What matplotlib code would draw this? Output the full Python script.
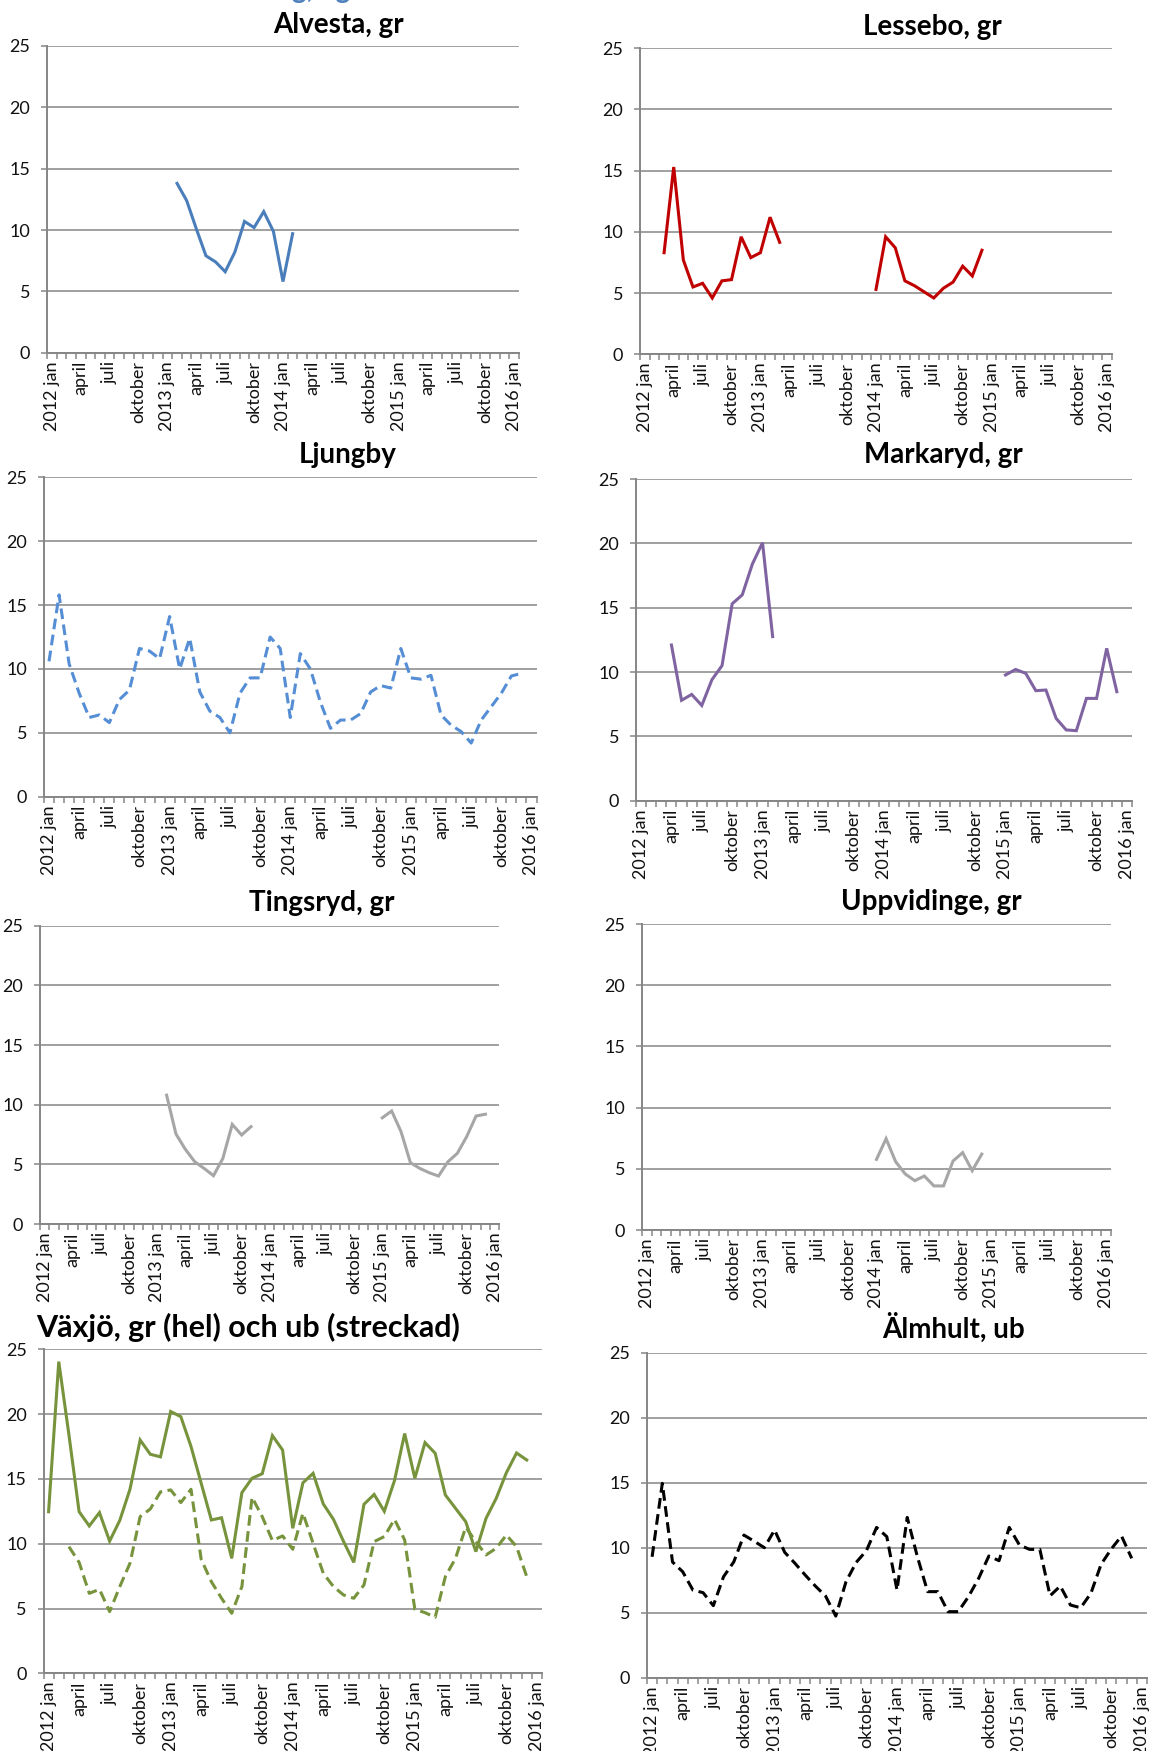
import numpy as np
import matplotlib.pyplot as plt

plt.rcParams['font.family'] = ['Lato', 'DejaVu Sans']

# 49 monthly categories, 2012 jan .. 2016 jan
n_months = 49
x_labels = ["2012 jan", "april", "juli", "oktober",
            "2013 jan", "april", "juli", "oktober",
            "2014 jan", "april", "juli", "oktober",
            "2015 jan", "april", "juli", "oktober",
            "2016 jan"]


def series(start, vals):
    out = [None] * start + list(vals)
    out += [None] * (n_months - len(out))
    return np.array([np.nan if v is None else v for v in out], dtype=float)


alvesta = series(13, [13.8, 12.4, 10.1, 7.9, 7.4, 6.6, 8.2, 10.7, 10.2, 11.5, 9.9, 5.8, 9.7])

lessebo = series(2, [8.3, 15.3, 7.7, 5.5, 5.8, 4.6, 6.0, 6.1, 9.6, 7.9, 8.3, 11.2, 9.15,
                     None, None, None, None, None, None, None, None, None,
                     5.3, 9.6, 8.7, 6.0, 5.6, 5.1, 4.6, 5.4, 5.9, 7.2, 6.4, 8.5])

ljungby = series(0, [10.6, 15.8, 10.4, 8.1, 6.2, 6.4, 5.8, 7.6, 8.35, 11.6, 11.4, 10.8,
                     14.1, 10.0, 12.4, 8.2, 6.7, 6.2, 5.0, 8.1, 9.3, 9.3, 12.5, 11.6,
                     6.2, 11.2, 10.0, 7.4, 5.35, 6.0, 6.0, 6.5, 8.2, 8.7, 8.5, 11.6,
                     9.3, 9.2, 9.5, 6.4, 5.6, 5.1, 4.2, 6.0, 7.05, 8.1, 9.45, 9.65])

markaryd = series(3, [12.1, 7.8, 8.26, 7.4, 9.4, 10.5, 15.3, 16.0, 18.4, 20.05, 12.75,
                      None, None, None, None, None, None, None, None, None, None, None,
                      None, None, None, None, None, None, None, None, None, None, None,
                      9.77, 10.2, 9.9, 8.55, 8.6, 6.4, 5.5, 5.44, 7.95, 7.95, 11.84, 8.47])

tingsryd = series(13, [10.8, 7.54, 6.26, 5.22, 4.66, 4.05, 5.5, 8.35, 7.46, 8.16,
                       None, None, None, None, None, None, None, None, None, None, None, None, None,
                       8.9, 9.47, 7.74, 5.14, 4.66, 4.3, 4.02, 5.22, 5.92, 7.32, 9.05, 9.2])

uppvidinge = series(24, [5.77, 7.46, 5.58, 4.58, 4.03, 4.41, 3.6, 3.6, 5.64, 6.32, 4.85, 6.2])

vaxjo_gr = series(0, [12.47, 24.05, 18.4, 12.47, 11.37, 12.4, 10.2, 11.8, 14.2, 18.0, 16.9, 16.7,
                      20.2, 19.8, 17.5, 14.66, 11.83, 12.0, 8.87, 13.94, 15.05, 15.4, 18.34, 17.23,
                      11.19, 14.7, 15.43, 13.07, 11.88, 10.16, 8.56, 13.04, 13.8, 12.5, 14.87, 18.5,
                      15.05, 17.8, 16.98, 13.76, 12.73, 11.7, 9.39, 11.96, 13.5, 15.48, 17.0, 16.46])

vaxjo_ub = series(2, [9.77, 8.56, 6.17, 6.48, 4.76, 6.69, 8.49, 12.09, 12.68, 14.0,
                      14.15, 13.17, 14.2, 8.8, 7.07, 5.79, 4.63, 6.69, 13.58, 12.09, 10.24, 10.6,
                      9.57, 12.35, 10.03, 7.72, 6.69, 6.04, 5.79, 6.82, 10.16, 10.55, 11.88, 10.29,
                      4.94, 4.68, 4.32, 7.46, 8.87, 11.27, 10.16, 9.13, 9.65, 10.67, 9.77, 7.46])

almhult = series(0, [9.3, 14.95, 8.9, 8.15, 6.74, 6.54, 5.54, 7.77, 8.9, 10.97, 10.5, 10.0,
                     11.36, 9.64, 8.8, 7.9, 7.05, 6.28, 4.74, 7.38, 8.87, 9.77, 11.56, 10.85,
                     6.74, 12.33, 9.3, 6.62, 6.62, 5.08, 5.08, 6.23, 7.64, 9.36, 9.0, 11.56,
                     10.2, 9.87, 9.87, 6.3, 7.05, 5.59, 5.38, 6.49, 8.72, 9.9, 10.9, 9.18])

W, H = 1151, 1751
fig = plt.figure(figsize=(W / 100, H / 100), dpi=100)
grey = '#868686'
x = np.arange(n_months)


def panel(box, title, title_xy, lines, title_size=20):
    L, R, T, B = box
    ax = fig.add_axes([L / W, 1 - B / H, (R - L) / W, (B - T) / H])
    for y, color, dash in lines:
        ln, = ax.plot(x, y, color=color, lw=2.2, solid_joinstyle='miter')
        if dash:
            ln.set_linestyle((0, dash))
    ax.set_xlim(-0.5, n_months - 0.5)
    ax.set_ylim(0, 25)
    ax.set_yticks([0, 5, 10, 15, 20, 25])
    ax.grid(axis='y', color=grey, lw=1.1)
    ax.set_axisbelow(True)
    for s in ['top', 'right']:
        ax.spines[s].set_visible(False)
    for s in ['left', 'bottom']:
        ax.spines[s].set_color(grey)
        ax.spines[s].set_linewidth(1.4)
    ax.set_xticks(np.arange(-0.5, n_months, 1.0))
    ax.set_xticklabels([])
    ax.set_xticks(np.arange(0, n_months, 3), minor=True)
    ax.set_xticklabels(x_labels, minor=True, rotation=90, fontsize=13, color='#111111')
    ax.tick_params(axis='x', which='major', length=4.5, width=1.1, color=grey, direction='out')
    ax.tick_params(axis='x', which='minor', length=0, pad=6)
    ax.tick_params(axis='y', length=4, width=1.1, color=grey, pad=8,
                   labelsize=13, labelcolor='#111111')
    fig.text(title_xy[0] / W, 1 - title_xy[1] / H, title, ha='center', va='center',
             fontsize=title_size, fontweight='bold')
    return ax


panel((47, 519, 46, 352.7), "Alvesta, gr", (338, 25), [(alvesta, '#4A7EBB', None)])
panel((640, 1112, 48.3, 354.3), "Lessebo, gr", (932, 27), [(lessebo, '#C00000', None)])
panel((44, 536.5, 477.3, 796.7), "Ljungby", (348, 455), [(ljungby, '#558ED5', (3.5, 1.8))])
panel((636, 1132, 479, 800.7), "Markaryd, gr", (943, 455), [(markaryd, '#8064A2', None)])
panel((40, 499.5, 925.7, 1224), "Tingsryd, gr", (322, 903), [(tingsryd, '#A6A6A6', None)])
panel((642, 1111, 924, 1230), "Uppvidinge, gr", (931, 902), [(uppvidinge, '#A6A6A6', None)])
panel((43.5, 542, 1349.3, 1673.3), "Växjö, gr (hel) och ub (streckad)", (248, 1327),
      [(vaxjo_gr, '#77933C', None), (vaxjo_ub, '#77933C', (3.5, 1.8))], title_size=22)
panel((647, 1147, 1352.7, 1677.7), "Älmhult, ub", (954, 1328), [(almhult, '#000000', (3.5, 1.8))])

# heading of the page above, cut off at the top edge
fig.text(321 / W, 1 + 2 / H, "g, ug", ha='center', va='baseline',
         fontsize=20, fontweight='bold', color='#4F81BD')

fig.savefig('out.png', dpi=100)
